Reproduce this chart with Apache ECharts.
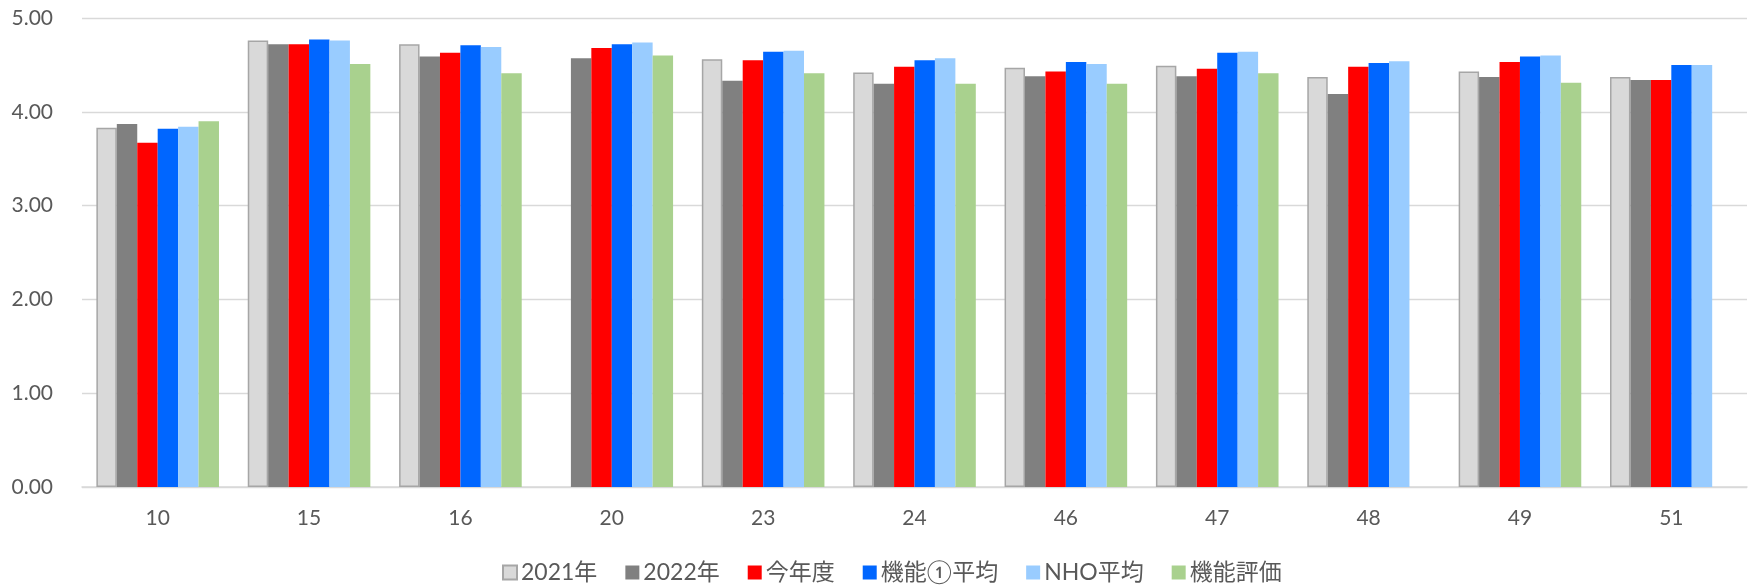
<!DOCTYPE html>
<html>
<head>
<meta charset="utf-8">
<script src="https://cdn.jsdelivr.net/npm/echarts@6/dist/echarts.min.js"></script>
<style>
html,body{margin:0;padding:0;background:#fff;}
#chart{width:1755px;height:587px;}
</style>
</head>
<body>
<div id="chart"></div>
<script>
const categories = ['10','15','16','20','23','24','46','47','48','49','51'];
const yTickLabels = ['0.00','1.00','2.00','3.00','4.00','5.00'];
const seriesNames = ['2021年','2022年','今年度','機能①平均','NHO平均','機能評価'];
const y2021   = [3.83, 4.76, 4.72, null, 4.56, 4.42, 4.47, 4.49, 4.37, 4.43, 4.37];
const y2022   = [3.87, 4.72, 4.59, 4.57, 4.33, 4.30, 4.38, 4.38, 4.19, 4.37, 4.34];
const thisYear= [3.67, 4.72, 4.63, 4.68, 4.55, 4.48, 4.43, 4.46, 4.48, 4.53, 4.34];
const func1Avg= [3.82, 4.77, 4.71, 4.72, 4.64, 4.55, 4.53, 4.63, 4.52, 4.59, 4.50];
const nhoAvg  = [3.84, 4.76, 4.69, 4.74, 4.65, 4.57, 4.51, 4.64, 4.54, 4.60, 4.50];
const funcEval= [3.90, 4.51, 4.41, 4.60, 4.41, 4.30, 4.30, 4.41, null, 4.31, null];

const dataSets = [y2021, y2022, thisYear, func1Avg, nhoAvg, funcEval];
const colors = ['#d9d9d9','#808080','#ff0000','#0066ff','#99ccff','#a9d18e'];
const FONT = 'Lato, "Noto Sans CJK JP", sans-serif';

const chart = echarts.init(document.getElementById('chart'), null, {renderer:'canvas'});
const series = seriesNames.map((name, i) => ({
  name: name,
  type: 'bar',
  data: dataSets[i],
  barGap: '0%',
  barCategoryGap: '19%',
  itemStyle: i === 0
    ? {color: colors[i], borderColor: '#a6a6a6', borderWidth: 1.5}
    : {color: colors[i]},
  emphasis: {disabled: true}
}));

chart.setOption({
  animation: false,
  backgroundColor: '#ffffff',
  textStyle: {fontFamily: FONT},
  grid: {left: 82, right: 8, top: 18, bottom: 100, containLabel: false},
  legend: {
    data: seriesNames,
    left: 497,
    top: 556,
    itemWidth: 14,
    itemHeight: 14,
    itemGap: 28,
    icon: 'rect',
    textStyle: {color: '#595959', fontSize: 23, fontFamily: FONT, padding: [0,0,0,-1]}
  },
  xAxis: {
    type: 'category',
    data: categories,
    axisTick: {show: false},
    axisLine: {lineStyle: {color: '#d9d9d9', width: 1.5}},
    axisLabel: {color: '#595959', fontSize: 21, margin: 21, lineHeight: 21, fontFamily: FONT}
  },
  yAxis: {
    type: 'value',
    min: 0,
    max: 5,
    interval: 1,
    axisLine: {show: false},
    axisTick: {show: false},
    splitLine: {lineStyle: {color: '#d9d9d9', width: 1.3}},
    axisLabel: {
      color: '#595959', fontSize: 21, margin: 29, fontFamily: FONT,
      formatter: function (v) { return yTickLabels[Math.round(v)]; }
    }
  },
  series: series
});
</script>
</body>
</html>
